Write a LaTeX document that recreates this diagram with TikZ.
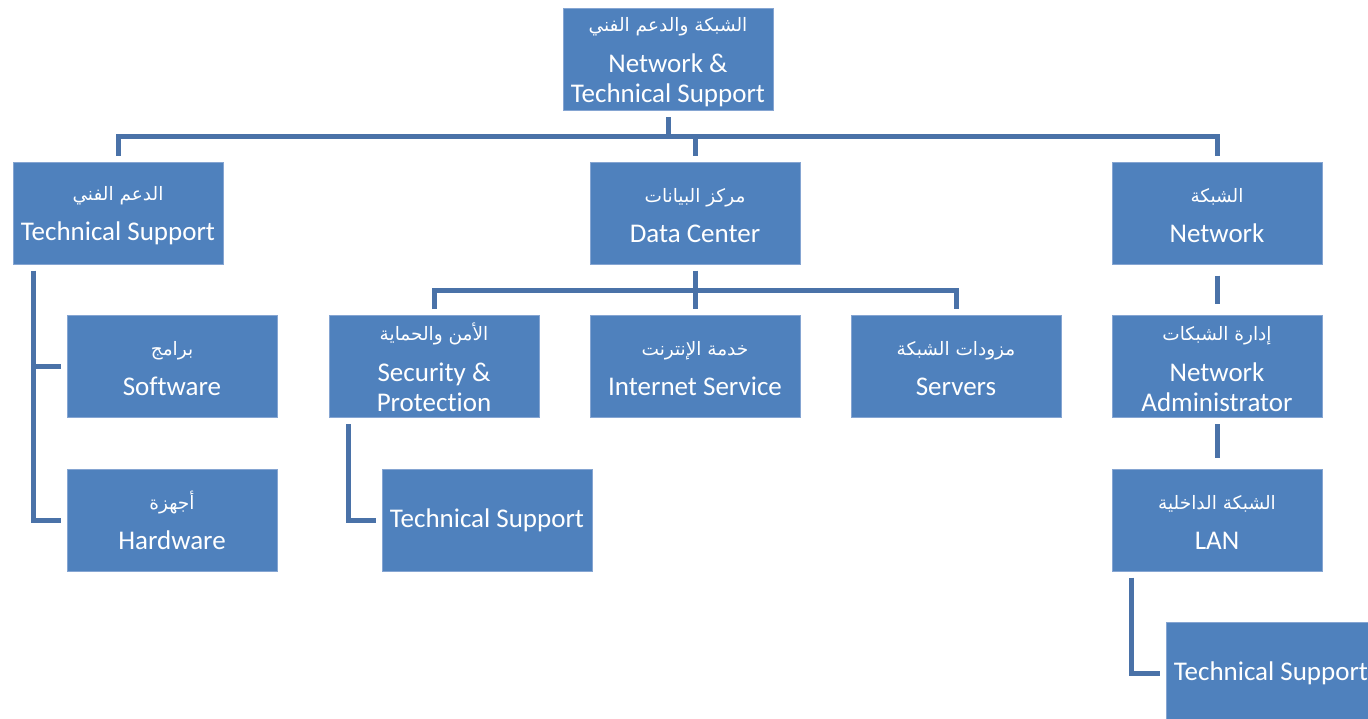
\documentclass[tikz,border=0pt]{standalone}
\usepackage{fontspec}
\setmainfont{Carlito}[Ligatures=NoCommon]
\newfontfamily\arabicfont[Script=Arabic]{DejaVu Sans}
\TeXXeTstate=1
\definecolor{boxblue}{HTML}{4F81BD}
\definecolor{boxedge}{HTML}{85A5D2}
\definecolor{linkblue}{HTML}{4A72A8}
\newcommand{\artxt}[1]{\rule{0pt}{19pt}{\arabicfont\fontsize{18.5}{20}\selectfont\beginR #1\endR}}
\tikzset{
  box/.style={draw=boxedge, line width=1pt, fill=boxblue, text=white,
    minimum width=210pt, minimum height=102pt, inner sep=0pt, align=center,
    font=\fontsize{27}{30}\selectfont},
  link/.style={draw=linkblue, line width=5pt},
}
\begin{document}
\begin{tikzpicture}[x=1pt,y=-1pt]
\useasboundingbox (0,0) rectangle (1368,718);
% boxes
\node[box] (root) at (668,59.5) {\artxt{الشبكة والدعم الفني}\\[11pt]Network \&\\Technical Support};
\node[box] (ts) at (118,213) {\artxt{الدعم الفني}\\[10pt]Technical Support};
\node[box] (dc) at (695,213) {\artxt{مركز البيانات}\\[10pt]Data Center};
\node[box] (net) at (1217,213) {\artxt{الشبكة}\\[10pt]Network};
\node[box] (sw) at (172,366.5) {\artxt{برامج}\\[10pt]Software};
\node[box] (sec) at (434,366.5) {\artxt{الأمن والحماية}\\[11pt]Security \&\\Protection};
\node[box] (inet) at (695,366.5) {\artxt{خدمة الإنترنت}\\[10pt]Internet Service};
\node[box] (srv) at (956,366.5) {\artxt{مزودات الشبكة}\\[10pt]Servers};
\node[box] (adm) at (1217,366.5) {\artxt{إدارة الشبكات}\\[11pt]Network\\Administrator};
\node[box] (hw) at (172,520) {\artxt{أجهزة}\\[10pt]Hardware};
\node[box] (ts2) at (487,520) {Technical Support};
\node[box] (lan) at (1217,520) {\artxt{الشبكة الداخلية}\\[10pt]LAN};
\node[box] (ts3) at (1271,673) {Technical Support};
% connectors level 1
\coordinate (b0) at (668,136);
\draw[link, shorten <=6pt] (root.south) -- (b0);
\draw[link, shorten <=6pt, shorten >=6pt] (ts.north) -- (ts.north |- b0) -- (net.north |- b0) -- (net.north);
\draw[link, shorten >=6pt] (dc.north |- b0) -- (dc.north);
% data center children
\coordinate (b1) at (695,290);
\draw[link, shorten <=6pt] (dc.south) -- (b1);
\draw[link, shorten <=6pt, shorten >=6pt] (sec.north) -- (sec.north |- b1) -- (srv.north |- b1) -- (srv.north);
\draw[link, shorten >=6pt] (inet.north |- b1) -- (inet.north);
% technical support children
\coordinate (tsv) at ([xshift=-85pt]ts.south);
\draw[link, shorten <=6pt, shorten >=6pt] (tsv) -- (tsv |- hw.west) -- (hw.west);
\draw[link, shorten >=6pt] (tsv |- sw.west) -- (sw.west);
% security child
\coordinate (secv) at ([xshift=-86pt]sec.south);
\draw[link, shorten <=6pt, shorten >=6pt] (secv) -- (secv |- ts2.west) -- (ts2.west);
% network chain
\draw[link, shorten <=11pt, shorten >=11pt] (net.south) -- (adm.north);
\draw[link, shorten <=6pt, shorten >=11pt] (adm.south) -- (lan.north);
\coordinate (lanv) at ([xshift=-86pt]lan.south);
\draw[link, shorten <=6pt, shorten >=6pt] (lanv) -- (lanv |- ts3.west) -- (ts3.west);
\end{tikzpicture}
\end{document}
